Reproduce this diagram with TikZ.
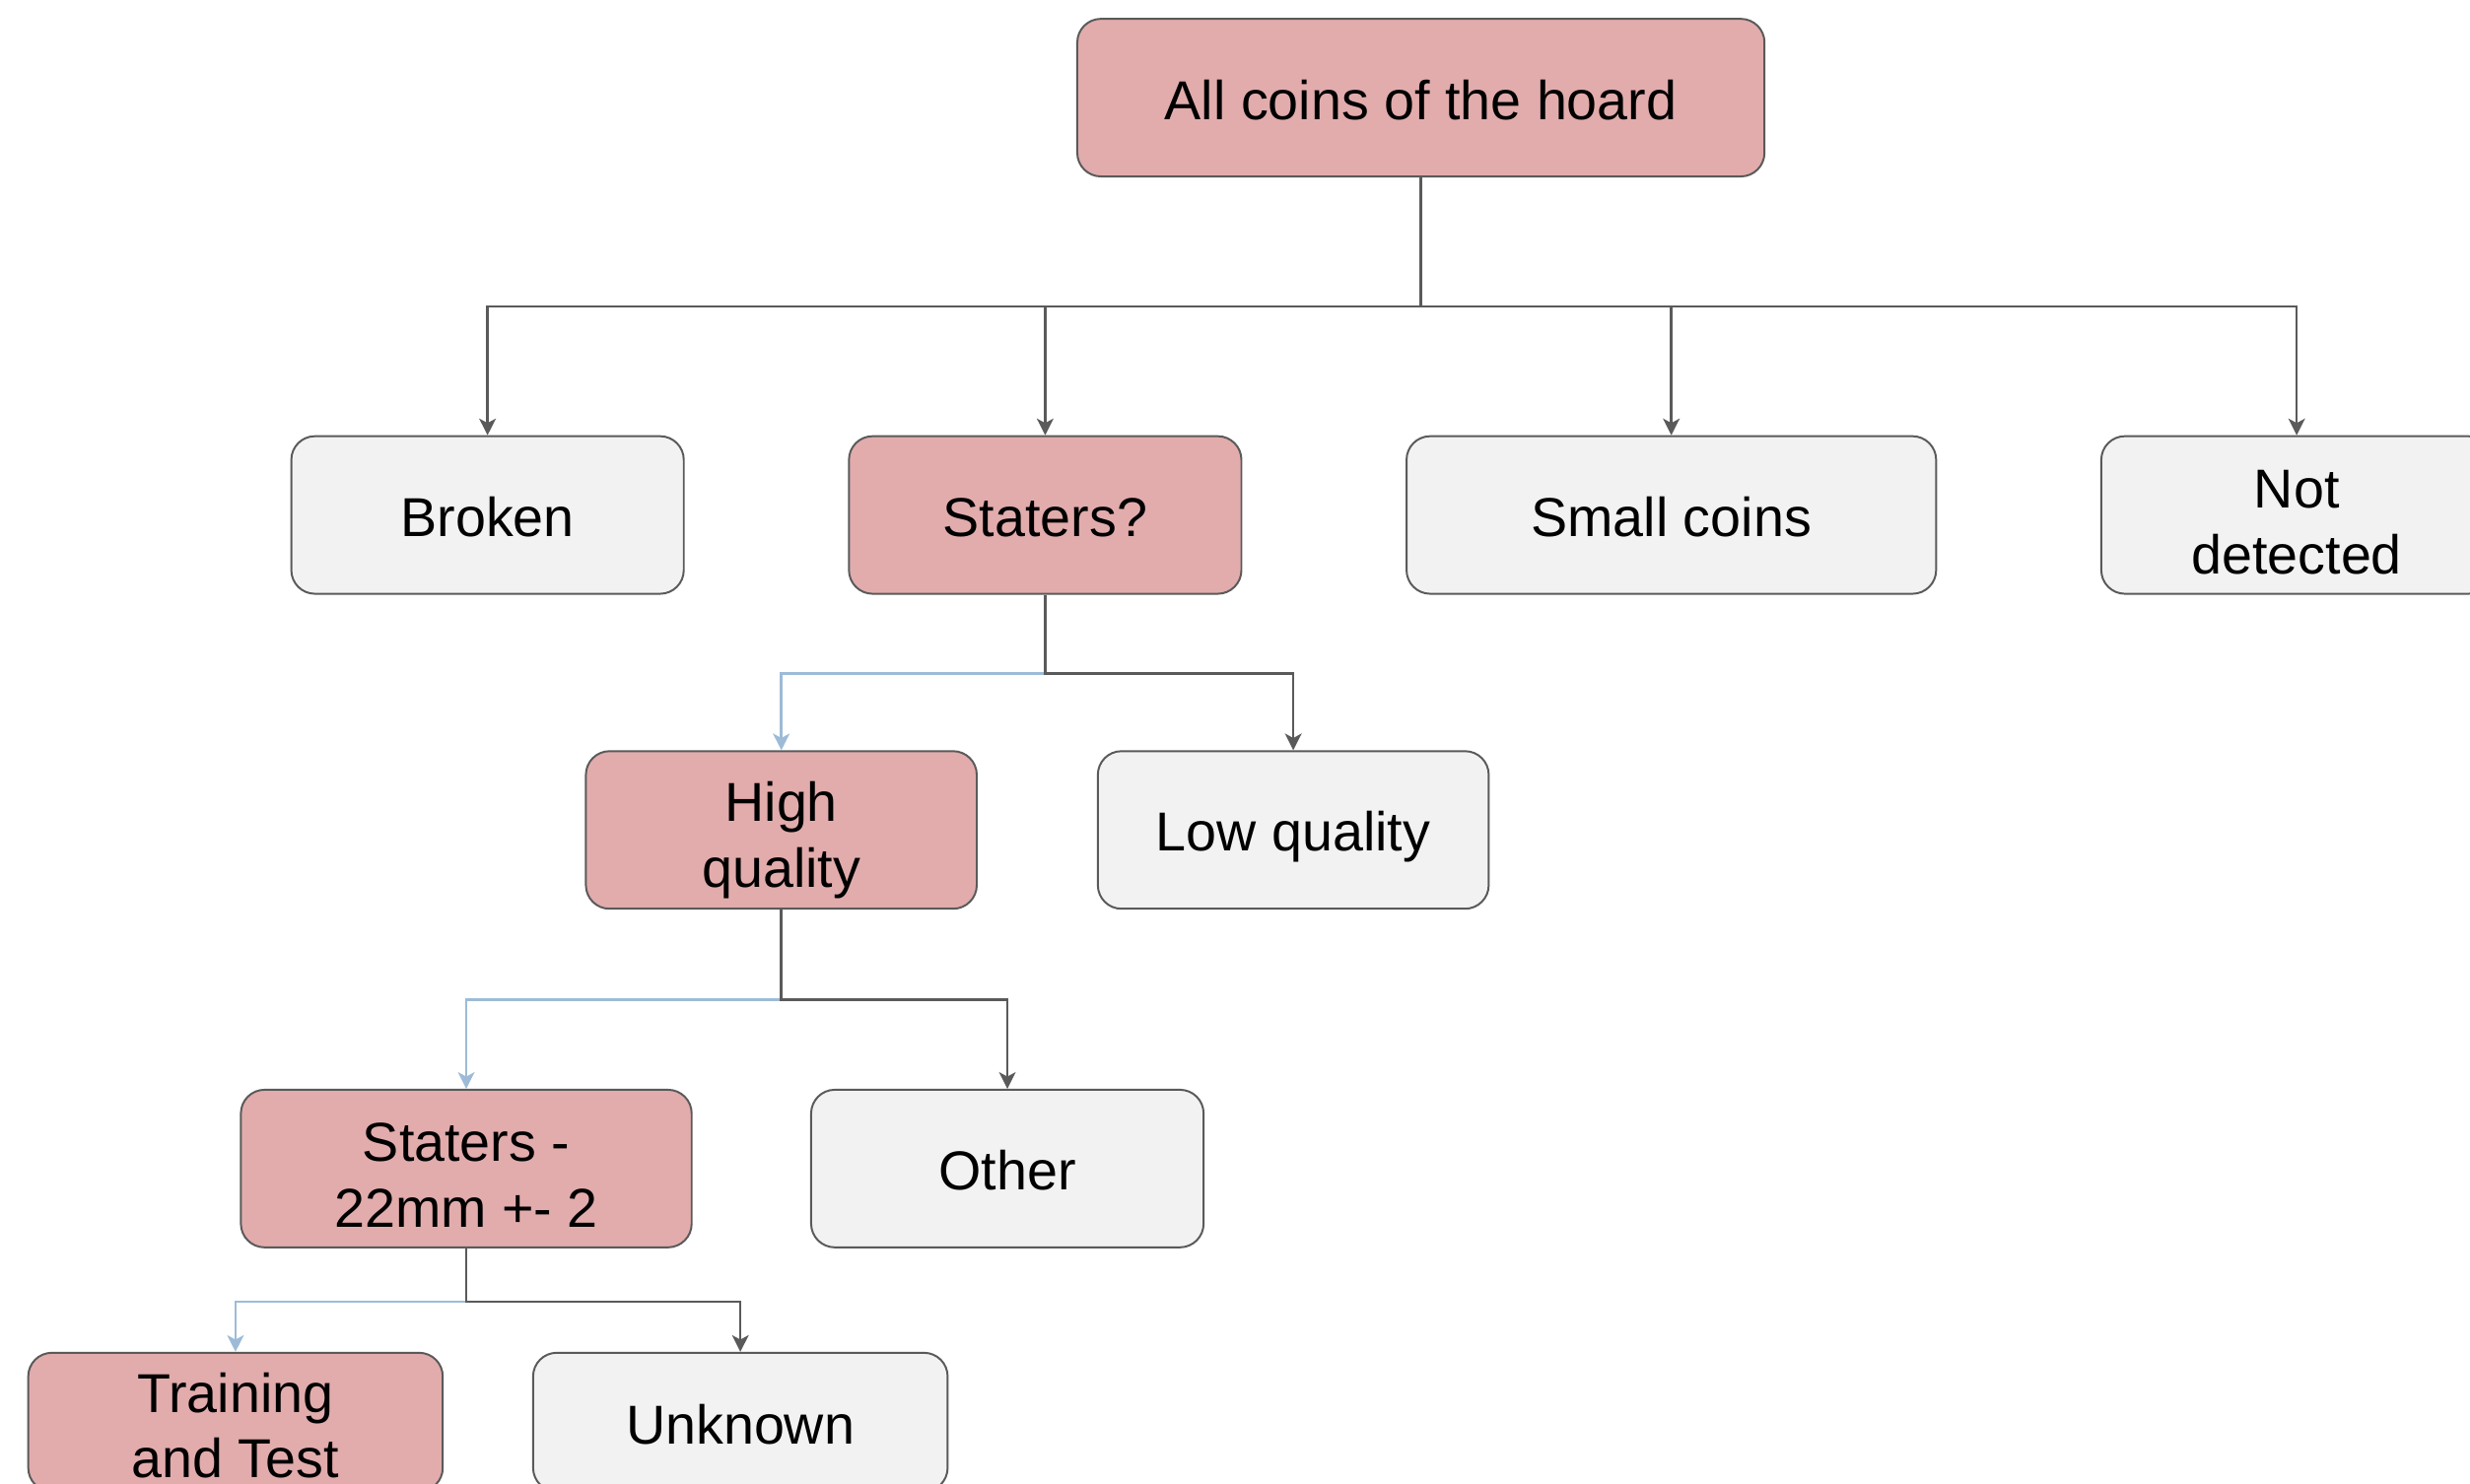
\documentclass[tikz,border=0pt]{standalone}
\usepackage{fontspec}
\setmainfont{Liberation Sans}
\usetikzlibrary{arrows.meta}

\definecolor{rose}{HTML}{E2ACAC}
\definecolor{gris}{HTML}{F2F2F2}
\definecolor{bord}{HTML}{5A5A5A}
\definecolor{bleu}{HTML}{9DBBD7}

\newcommand\appuihaut[1]{\leavevmode\vrule width0pt height#1 depth0pt}
\newcommand\appuibas{\vrule width0pt height0pt depth1.7pt}

\tikzset{
  boite/.style={draw=bord, line width=0.35pt, rounded corners=0.15cm, align=center,
    minimum height=1cm, inner sep=0pt, font=\fontsize{9.9}{11.9}\selectfont,
    execute at begin node=\appuihaut{9.5pt}, execute at end node=\appuibas},
  choisi/.style={boite, fill=rose},
  autre/.style={boite, fill=gris},
  trait/.style={draw=bord, line width=0.45pt, -{Stealth[length=3pt,width=3pt,inset=0.8pt]}},
  traitbleu/.style={trait, draw=bleu},
}

\begin{document}
\begin{tikzpicture}[x=0.01cm,y=-0.01cm]
%					Cadre :
\useasboundingbox (0,0) rectangle (1568,942);
%					Niveau 1 :
\node[choisi, minimum width=4.36cm] (tout) at (902,62) {All coins of the hoard};
%					Niveau 2 :
\node[autre, minimum width=2.49cm] (casse) at (309.5,327) {Broken};
\node[choisi, minimum width=2.49cm] (stat) at (663.5,327) {Staters?};
\node[autre, minimum width=3.36cm] (petit) at (1061,327) {Small coins};
\node[autre, minimum width=2.48cm] (nondet) at (1458,327) {\appuihaut{11.2pt}Not\\detected\appuibas};
%					Niveau 3 :
\node[choisi, minimum width=2.48cm] (haute) at (496,527) {\appuihaut{11pt}High\\quality\appuibas};
\node[autre, minimum width=2.48cm] (basse) at (821,527) {Low quality};
%					Niveau 4 :
\node[choisi, minimum width=2.86cm] (stat22) at (296,742) {\appuihaut{11pt}Staters -\\22mm +- 2\appuibas};
\node[autre, minimum width=2.49cm] (autres) at (639.5,742) {Other};
%					Niveau 5 :
\node[choisi, minimum width=2.63cm, minimum height=0.88cm] (appr) at (149.5,903) {\appuihaut{10pt}Training\\and Test\appuibas};
\node[autre, minimum width=2.63cm, minimum height=0.88cm] (inconnu) at (470,903) {Unknown};
%					Liaisons :
\draw[trait] (tout.south) -- ++(0,82) -| (casse.north);
\draw[trait] (tout.south) -- ++(0,82) -| (stat.north);
\draw[trait] (tout.south) -- ++(0,82) -| (petit.north);
\draw[trait] (tout.south) -- ++(0,82) -| (nondet.north);
\draw[traitbleu] (stat.south) -- ++(0,50) -| (haute.north);
\draw[trait] (stat.south) -- ++(0,50) -| (basse.north);
\draw[traitbleu] (haute.south) -- ++(0,57) -| (stat22.north);
\draw[trait] (haute.south) -- ++(0,57) -| (autres.north);
\draw[traitbleu] (stat22.south) -- ++(0,34) -| (appr.north);
\draw[trait] (stat22.south) -- ++(0,34) -| (inconnu.north);
\end{tikzpicture}
\end{document}
